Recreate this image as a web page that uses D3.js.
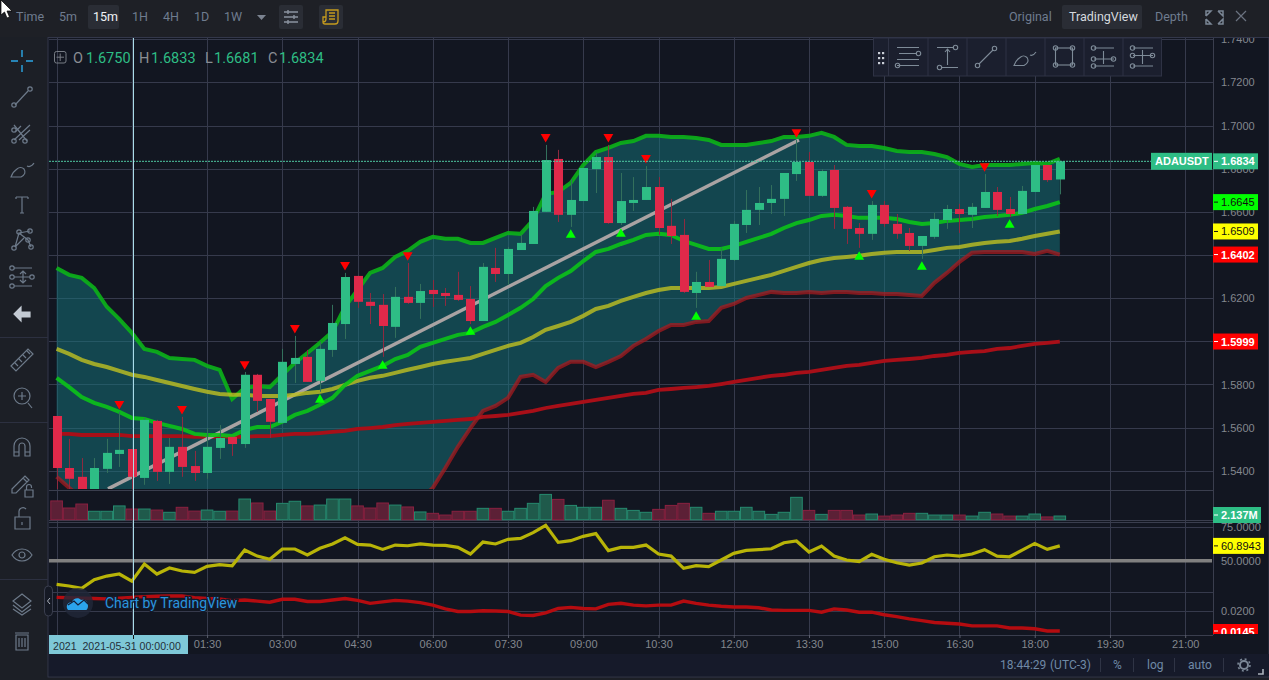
<!DOCTYPE html>
<html>
<head>
<meta charset="utf-8">
<script src="https://cdn.jsdelivr.net/npm/d3@7"></script>
<style>
html, body { margin: 0; padding: 0; background: #1c1f26; overflow: hidden; }
svg { display: block; }
</style>
</head>
<body>
<script>
//// Data ////////////////////////////////////////////
// ADAUSDT 15m, one entry per bar

const opens = [1.5654,1.5413,1.5372,1.5288,1.5409,1.5478,1.5501,1.5367,1.5631,1.5395,1.5511,1.5422,1.5390,1.5506,1.5557,1.5524,1.5845,1.5733,1.5622,1.5895,1.5928,1.5817,1.5960,1.6080,1.6303,
  1.6183,1.6169,1.6067,1.6206,1.6178,1.6238,1.6224,1.6215,1.6196,1.6094,1.6340,1.6312,1.6423,1.6451,1.6600,1.6845,1.6586,1.6650,1.6798,1.6854,1.6548,1.6641,1.6655,1.6715,
  1.6535,1.6493,1.6224,1.6275,1.6256,1.6377,1.6539,1.6609,1.6641,1.6660,1.6775,1.6831,1.6674,1.6794,1.6623,1.6525,1.6498,1.6632,1.6544,1.6502,1.6442,1.6484,1.6562,1.6613,1.6586,1.6618,1.6692,1.6613,1.6590,1.6692,1.6817,1.6750]
const closes = [1.5413,1.5363,1.5288,1.5413,1.5483,1.5497,1.5372,1.5636,1.5395,1.5511,1.5418,1.5390,1.5511,1.5552,1.5524,1.5845,1.5724,1.5627,1.5905,1.5923,1.5812,1.5965,1.6085,1.6298,1.6183,
  1.6164,1.6071,1.6206,1.6178,1.6233,1.6219,1.6210,1.6192,1.6094,1.6345,1.6312,1.6428,1.6456,1.6604,1.6840,1.6586,1.6655,1.6803,1.6854,1.6548,1.6650,1.6655,1.6715,1.6525,
  1.6488,1.6229,1.6275,1.6252,1.6382,1.6544,1.6609,1.6641,1.6660,1.6780,1.6831,1.6674,1.6789,1.6618,1.6521,1.6498,1.6632,1.6544,1.6498,1.6442,1.6488,1.6567,1.6613,1.6590,1.6623,1.6692,1.6609,1.6590,1.6697,1.6817,1.6747,1.6834]
const highs = [1.5654,1.5548,1.5459,1.5459,1.5548,1.5673,1.5501,1.5645,1.5636,1.5552,1.5650,1.5492,1.5598,1.5612,1.5557,1.5858,1.5849,1.5733,1.5965,1.6025,1.5960,1.5998,1.6169,1.6317,1.6303,
  1.6224,1.6219,1.6252,1.6363,1.6266,1.6284,1.6247,1.6322,1.6256,1.6363,1.6433,1.6437,1.6493,1.6623,1.6910,1.6887,1.6752,1.6803,1.6873,1.6910,1.6780,1.6761,1.6812,1.6761,
  1.6660,1.6567,1.6322,1.6377,1.6433,1.6558,1.6701,1.6715,1.6724,1.6780,1.6933,1.6877,1.6798,1.6817,1.6627,1.6548,1.6650,1.6650,1.6590,1.6525,1.6488,1.6595,1.6632,1.6637,1.6641,1.6775,1.6715,1.6669,1.6720,1.6817,1.6817,1.6834]
const lows = [1.5302,1.5302,1.5265,1.5280,1.5390,1.5418,1.5311,1.5335,1.5353,1.5339,1.5372,1.5353,1.5363,1.5455,1.5469,1.5506,1.5673,1.5552,1.5622,1.5807,1.5812,1.5766,1.5928,1.6011,1.6155,
  1.6080,1.5928,1.6016,1.6173,1.6104,1.6159,1.6164,1.6187,1.6080,1.6094,1.6275,1.6261,1.6423,1.6451,1.6600,1.6553,1.6530,1.6650,1.6687,1.6544,1.6539,1.6604,1.6655,1.6493,
  1.6451,1.6224,1.6155,1.6252,1.6256,1.6372,1.6502,1.6539,1.6590,1.6581,1.6743,1.6674,1.6669,1.6521,1.6451,1.6433,1.6470,1.6530,1.6475,1.6419,1.6382,1.6475,1.6521,1.6502,1.6525,1.6618,1.6581,1.6576,1.6590,1.6692,1.6738,1.6681]

// volume in millions
const volumes = [10.9,6.8,9.1,4.9,4.9,8.0,6.2,6.2,5.6,4.3,7.2,5.0,5.6,4.9,5.0,12.0,9.7,5.0,9.5,10.7,8.0,8.5,12.0,12.0,8.0,6.8,9.7,8.5,7.4,4.5,
  3.7,2.7,4.9,4.9,6.6,6.6,4.9,6.6,9.5,14.7,11.8,8.3,7.2,7.2,11.3,6.6,5.4,4.3,6.0,8.3,9.5,7.2,3.7,4.9,4.9,7.2,4.9,3.1,4.3,13.0,5.4,3.1,5.4,
  5.4,2.7,3.3,2.1,2.7,3.7,3.7,2.7,2.7,2.7,2.1,4.3,3.3,2.1,2.1,3.3,1.6,2.137]

const upperBand = [1.6340,1.6308,1.6294,1.6247,1.6160,1.6103,1.6039,1.5965,1.5951,1.5923,1.5918,1.5914,1.5886,1.5868,1.5733,1.5784,1.5793,1.5788,1.5845,1.5900,1.5946,1.5993,1.6044,1.6160,1.6238,
  1.6317,1.6340,1.6391,1.6419,1.6461,1.6484,1.6475,1.6475,1.6456,1.6456,1.6479,1.6502,1.6498,1.6562,1.6682,1.6692,1.6734,1.6817,1.6877,1.6896,1.6919,1.6928,1.6952,1.6952,
  1.6947,1.6947,1.6942,1.6933,1.6910,1.6910,1.6910,1.6919,1.6928,1.6947,1.6947,1.6952,1.6966,1.6947,1.6910,1.6905,1.6905,1.6896,1.6882,1.6877,1.6877,1.6868,1.6854,1.6822,1.6808,1.6817,1.6817,1.6817,1.6822,1.6826,1.6822,1.6845]
const middleBand = [1.5831,1.5788,1.5742,1.5715,1.5696,1.5673,1.5645,1.5640,1.5622,1.5608,1.5594,1.5571,1.5566,1.5566,1.5561,1.5589,1.5603,1.5603,1.5627,1.5659,1.5678,1.5706,1.5738,1.5798,1.5840,
  1.5863,1.5886,1.5918,1.5937,1.5974,1.5993,1.6011,1.6030,1.6039,1.6067,1.6090,1.6122,1.6155,1.6196,1.6256,1.6294,1.6326,1.6372,1.6414,1.6428,1.6451,1.6470,1.6493,1.6498,
  1.6493,1.6465,1.6447,1.6428,1.6428,1.6442,1.6461,1.6479,1.6498,1.6525,1.6548,1.6562,1.6581,1.6586,1.6581,1.6572,1.6572,1.6572,1.6567,1.6553,1.6544,1.6548,1.6558,1.6562,1.6567,1.6576,1.6581,1.6586,1.6595,1.6613,1.6627,1.6645]
const emaFast = [1.5965,1.5942,1.5914,1.5895,1.5881,1.5863,1.5845,1.5835,1.5821,1.5807,1.5793,1.5779,1.5766,1.5756,1.5752,1.5752,1.5747,1.5747,1.5747,1.5752,1.5761,1.5766,1.5779,1.5798,1.5817,
  1.5831,1.5840,1.5854,1.5868,1.5881,1.5895,1.5905,1.5914,1.5923,1.5942,1.5960,1.5979,1.5993,1.6020,1.6053,1.6071,1.6090,1.6118,1.6150,1.6164,1.6187,1.6206,1.6224,1.6238,
  1.6247,1.6247,1.6247,1.6247,1.6252,1.6266,1.6280,1.6294,1.6308,1.6326,1.6345,1.6363,1.6377,1.6386,1.6391,1.6396,1.6405,1.6410,1.6414,1.6414,1.6414,1.6423,1.6433,1.6437,1.6447,1.6456,1.6461,1.6465,1.6475,1.6488,1.6498,1.6509]
// below the pane for the first third of the bars, estimated there
const lowerBand = [1.5372,1.5321,1.5274,1.5219,1.5149,1.5080,1.5024,1.4964,1.4941,1.4931,1.4917,1.4917,1.4917,1.4931,1.4917,1.4941,1.4950,1.4964,1.4987,1.5010,1.5033,1.5056,1.5089,1.5107,1.5126,1.5149,1.5172,1.5195,1.5219,1.5265,
  1.5321,1.5413,1.5511,1.5598,1.5678,1.5701,1.5738,1.5835,1.5845,1.5812,1.5877,1.5905,1.5905,1.5881,1.5905,1.5932,1.5979,1.6011,1.6048,
  1.6076,1.6076,1.6090,1.6094,1.6155,1.6173,1.6201,1.6215,1.6229,1.6224,1.6224,1.6229,1.6224,1.6229,1.6229,1.6224,1.6224,1.6219,1.6219,1.6215,1.6210,1.6271,1.6317,1.6368,1.6410,1.6414,1.6414,1.6414,1.6414,1.6405,1.6419,1.6402]
const emaSlow = [1.5571,1.5571,1.5566,1.5566,1.5566,1.5566,1.5561,1.5561,1.5561,1.5561,1.5561,1.5557,1.5557,1.5557,1.5557,1.5557,1.5561,1.5561,1.5566,1.5571,1.5571,1.5575,1.5580,
  1.5585,1.5594,1.5598,1.5603,1.5612,1.5617,1.5622,1.5627,1.5631,1.5636,1.5640,1.5650,1.5654,1.5659,1.5668,1.5678,1.5691,1.5701,1.5710,1.5719,1.5729,1.5738,1.5747,1.5756,1.5761,1.5775,1.5779,1.5784,1.5788,1.5793,1.5802,1.5812,
  1.5821,1.5831,1.5840,1.5845,1.5854,1.5858,1.5868,1.5877,1.5886,1.5891,1.5900,1.5909,1.5914,1.5918,
  1.5923,1.5932,1.5937,1.5946,1.5951,1.5955,1.5965,1.5969,1.5979,1.5988,1.5993,1.5999]

const rsiValues = [32.6,31.4,29.7,36.0,38.7,40.2,35.0,47.5,40.2,44.6,42.4,41.4,45.8,47.1,46.3,57.8,53.4,51.0,58.6,58.6,54.2,59.1,62.3,66.9,62.0,61.5,58.3,61.5,61.0,
  62.3,61.5,61.3,59.8,54.9,63.7,62.3,65.7,66.4,70.6,76.0,63.5,64.7,67.9,69.9,57.4,59.8,59.8,61.5,54.9,53.4,44.4,46.3,45.6,50.5,55.4,57.6,58.1,58.8,63.2,64.5,56.4,60.8,53.4,
  50.5,49.3,54.7,51.0,48.5,46.8,48.3,52.9,54.2,53.4,54.9,58.1,53.4,52.9,57.8,62.7,58.3,60.8943]
const lowerOsc = [.0236,.0235,.0234,.0233,.0232,.0234,.0236,.0238,.0239,.0240,.0240,.0235,.0233,.0232,.0227,.0229,.0226,.0223,.0231,.0231,.0225,.0225,.0229,.0233,.0228,.0220,.0224,.0228,.0226,.0222,
  .0215,.0205,.0198,.0198,.0200,.0199,.0198,.0188,.0187,.0194,.0206,.0209,.0206,.0205,.0217,.0220,.0215,.0213,.0215,.0215,.0226,.0220,.0215,.0212,.0210,.0210,.0208,.0202,.0201,.0201,.0201,.0196,.0205,
  .0202,.0196,.0196,.0189,.0184,.0178,.0173,.0168,.0166,.0164,.0159,.0159,.0159,.0153,.0153,.0151,.0145,.0145]

// signal markers: bar index and price
const sellBars = [5,10,15,19,23,28,39,44,47,59,65,74]
const sellPrices = [1.5710,1.5687,1.5895,1.6062,1.6354,1.6400,1.6947,1.6947,1.6850,1.6970,1.6688,1.6812]
const buyBars = [21,26,33,41,45,51,64,69,76]
const buyPrices = [1.5729,1.5886,1.6044,1.6493,1.6498,1.6113,1.6391,1.6345,1.6539]

// hand drawn trend line
const trendBars = [4.1, 59.2]
const trendPrices = [1.5316, 1.6933]

const priceTicks = [1.74,1.72,1.70,1.68,1.66,1.64,1.62,1.60,1.58,1.56,1.54]
const rsiTicks = [75,50]
const oscTicks = [.025,.02]
// first two labels (22:30, 00:00) sit under the crosshair box, so they are left out
const timeLabels = ["01:30","03:00","04:30","06:00","07:30","09:00","10:30","12:00","13:30","15:00","16:30","18:00","19:30","21:00"]

//// Constants ///////////////////////////////////////
const WIDTH = 1269
const HEIGHT = 680
const GREEN = "#2ebd85"
const RED = "#e0294a"
const GRID = "#363a4c"
const AXIS_TEXT = "#83878e"
const ICON = "#6d7a8a"
const AXIS_FONT = "'Liberation Sans', Arial, sans-serif"
const UI_FONT = "Roboto, sans-serif"
const fmt4 = d3.format(".4f")

//// Scales //////////////////////////////////////////
const x = d3.scaleLinear().domain([0, 80]).range([56.6, 1059.8])
const y = d3.scaleLinear().domain([1.54, 1.70]).range([470.8, 125.5])
const yVol = d3.scaleLinear().domain([0, 14.7]).range([519.7, 494.4])
const yRsi = d3.scaleLinear().domain([50, 75]).range([560.7, 526.7])
const yOsc = d3.scaleLinear().domain([.02, .0145]).range([610.7, 631])

const svg = d3.select("body").append("svg")
  .attr("width", WIDTH)
  .attr("height", HEIGHT)
  .style("font-family", AXIS_FONT)

const defs = svg.append("defs")
defs.append("clipPath").attr("id", "clip-main").append("rect")
  .attr("x", 49).attr("y", 38).attr("width", 1164).attr("height", 451)
defs.append("clipPath").attr("id", "clip-lower").append("rect")
  .attr("x", 49).attr("y", 491).attr("width", 1164).attr("height", 144)
defs.append("clipPath").attr("id", "clip-osc-label").append("rect")
  .attr("x", 1213).attr("y", 600).attr("width", 56).attr("height", 34)

//// Backgrounds /////////////////////////////////////
svg.append("rect").attr("width", WIDTH).attr("height", HEIGHT).attr("fill", "#1c1f26")
svg.append("rect").attr("x", 48).attr("y", 37).attr("width", WIDTH - 48).attr("height", 640)
  .attr("fill", "#121621").attr("stroke", "#33374a")
svg.append("rect").attr("x", 49).attr("y", 654).attr("width", WIDTH - 49).attr("height", 22).attr("fill", "#161a2a")

//// Grid ////////////////////////////////////////////
svg.append("g").selectAll("line").data(d3.range(0, 16)).join("line")
  .attr("x1", i => Math.round(x(6 * i)) + .5)
  .attr("x2", i => Math.round(x(6 * i)) + .5)
  .attr("y1", 38).attr("y2", 635)
  .attr("stroke", GRID)

function hGrid(values, scale) {
  svg.append("g").selectAll("line").data(values).join("line")
    .attr("x1", 49).attr("x2", 1213)
    .attr("y1", d => Math.round(scale(d)) + .5)
    .attr("y2", d => Math.round(scale(d)) + .5)
    .attr("stroke", GRID)
}
hGrid(priceTicks, y)
hGrid(rsiTicks.slice(0, 1), yRsi)
hGrid(oscTicks, yOsc)

// pane separators
for (const sep of [490.5, 520.5, 522.5, 635.5]) {
  svg.append("line").attr("x1", 49).attr("x2", 1213).attr("y1", sep).attr("y2", sep).attr("stroke", "#3a3e4e")
}
svg.append("line").attr("x1", 1213.5).attr("x2", 1213.5).attr("y1", 38).attr("y2", 635).attr("stroke", "#3a3e4e")

//// Main pane ///////////////////////////////////////
const main = svg.append("g").attr("clip-path", "url(#clip-main)")

main.append("path")
  .datum(d3.range(81))
  .attr("fill", "rgba(19,117,126,.5)")
  .attr("d", d3.area().x(i => x(i)).y0(i => y(lowerBand[i])).y1(i => y(upperBand[i])))

const priceLine = (values) => d3.line().x((d, i) => x(i)).y(d => y(d))(values)

main.append("path").attr("d", priceLine(emaSlow)).attr("fill", "none")
  .attr("stroke", "#a80f18").attr("stroke-width", 3.8)
main.append("path").attr("d", priceLine(lowerBand)).attr("fill", "none")
  .attr("stroke", "#ab1a1e").attr("stroke-width", 4).attr("stroke-opacity", .72)

main.append("path")
  .attr("d", d3.line().x(d => x(d[0])).y(d => y(d[1]))(trendBars.map((b, i) => [b, trendPrices[i]])))
  .attr("fill", "none").attr("stroke", "#a9a3a3").attr("stroke-width", 3.5)

main.append("path").attr("d", priceLine(upperBand)).attr("fill", "none")
  .attr("stroke", "#0cb318").attr("stroke-width", 4).attr("stroke-opacity", .9)
main.append("path").attr("d", priceLine(emaFast)).attr("fill", "none")
  .attr("stroke", "#bcbe22").attr("stroke-width", 4).attr("stroke-opacity", .82)
main.append("path").attr("d", priceLine(middleBand)).attr("fill", "none")
  .attr("stroke", "#0cc218").attr("stroke-width", 4).attr("stroke-opacity", .9)

// current price dashed line
svg.append("line").attr("x1", 49).attr("x2", 1213)
  .attr("y1", y(1.6834)).attr("y2", y(1.6834))
  .attr("stroke", "#4fc7a1").attr("stroke-dasharray", "2,1")

// candles
const bars = d3.range(81)
main.append("g").selectAll("line").data(bars).join("line")
  .attr("x1", i => Math.round(x(i)) + .5)
  .attr("x2", i => Math.round(x(i)) + .5)
  .attr("y1", i => y(highs[i]))
  .attr("y2", i => y(lows[i]))
  .attr("stroke", i => closes[i] >= opens[i] ? "#33705c" : "#8e2a40")
main.append("g").selectAll("rect").data(bars).join("rect")
  .attr("x", i => Math.round(x(i)) - 4)
  .attr("width", 9)
  .attr("y", i => y(Math.max(opens[i], closes[i])))
  .attr("height", i => Math.max(1, Math.abs(y(opens[i]) - y(closes[i]))))
  .attr("fill", i => closes[i] >= opens[i] ? GREEN : RED)

// signals
main.append("g").selectAll("path").data(sellBars).join("path")
  .attr("d", d3.symbol(d3.symbolTriangle, 42))
  .attr("fill", "#ff0000")
  .attr("transform", (b, i) => `translate(${x(b)},${y(sellPrices[i])}) rotate(180)`)
main.append("g").selectAll("path").data(buyBars).join("path")
  .attr("d", d3.symbol(d3.symbolTriangle, 42))
  .attr("fill", "#00ff00")
  .attr("transform", (b, i) => `translate(${x(b)},${y(buyPrices[i])})`)

//// Volume //////////////////////////////////////////
svg.append("g").selectAll("rect").data(bars).join("rect")
  .attr("x", i => x(i) - 5.8)
  .attr("width", 11.6)
  .attr("y", i => yVol(volumes[i]))
  .attr("height", i => yVol(0) - yVol(volumes[i]))
  .attr("fill", i => closes[i] >= opens[i] ? "#1f5a4b" : "#5c2036")
  .attr("stroke", i => closes[i] >= opens[i] ? "#268a6f" : "#8a2140")

//// Lower oscillators ///////////////////////////////
const lower = svg.append("g").attr("clip-path", "url(#clip-lower)")
lower.append("line").attr("x1", 49).attr("x2", 1212)
  .attr("y1", yRsi(50)).attr("y2", yRsi(50))
  .attr("stroke", "#808080").attr("stroke-width", 3.6)
lower.append("path")
  .attr("d", d3.line().x((d, i) => x(i)).y(d => yRsi(d))(rsiValues))
  .attr("fill", "none").attr("stroke", "#b8b408").attr("stroke-width", 3.2)
lower.append("path")
  .attr("d", d3.line().x((d, i) => x(i)).y(d => yOsc(d))(lowerOsc))
  .attr("fill", "none").attr("stroke", "#b50c10").attr("stroke-width", 3.4)

//// Crosshair ///////////////////////////////////////
svg.append("line").attr("x1", 133.5).attr("x2", 133.5).attr("y1", 38).attr("y2", 635)
  .attr("stroke", "#a9dce8")

//// Axes ////////////////////////////////////////////
function styleAxis(g) {
  g.select(".domain").remove()
  g.selectAll(".tick line").remove()
  g.selectAll("text").attr("fill", AXIS_TEXT).style("font-size", "11px").style("font-family", AXIS_FONT)
}

svg.append("g").attr("transform", "translate(1213,0)")
  .call(d3.axisRight(y).tickValues(priceTicks).tickFormat(fmt4).tickSize(0).tickPadding(8))
  .call(styleAxis)
svg.append("g").attr("transform", "translate(1213,0)")
  .call(d3.axisRight(yRsi).tickValues(rsiTicks).tickFormat(fmt4).tickSize(0).tickPadding(8))
  .call(styleAxis)
svg.append("g").attr("transform", "translate(1213,0)")
  .call(d3.axisRight(yOsc).tickValues(oscTicks.slice(1)).tickFormat(fmt4).tickSize(0).tickPadding(8))
  .call(styleAxis)

const timeAxis = d3.axisBottom(x)
  .tickValues(timeLabels.map((d, i) => 12 + 6 * i))
  .tickFormat((d, i) => timeLabels[i])
  .tickSize(3)
  .tickPadding(2)
svg.append("g").attr("transform", "translate(0,635)")
  .call(timeAxis)
  .call(g => g.select(".domain").remove())
  .call(g => g.selectAll(".tick line").attr("stroke", "#5a5e6c"))
  .call(g => g.selectAll("text").attr("fill", AXIS_TEXT).style("font-size", "11px").style("font-family", AXIS_FONT))

// crosshair time label
svg.append("rect").attr("x", 49).attr("y", 635).attr("width", 139).attr("height", 19).attr("fill", "#7ec8d8")
svg.append("line").attr("x1", 133.5).attr("x2", 133.5).attr("y1", 635).attr("y2", 639).attr("stroke", "#111")
svg.append("text").attr("x", 53).attr("y", 650).attr("fill", "#24303a")
  .style("font-size", "10.6px").style("white-space", "pre").text("2021  2021-05-31 00:00:00")

//// Value labels ////////////////////////////////////
function priceLabel(cy, text, bg, color, w, bold) {
  svg.append("rect").attr("x", 1213).attr("y", cy - 8).attr("width", w).attr("height", 16).attr("fill", bg)
  svg.append("line").attr("x1", 1214).attr("x2", 1218).attr("y1", cy).attr("y2", cy).attr("stroke", color)
  svg.append("text").attr("x", 1221).attr("y", cy + 4).attr("fill", color)
    .style("font-size", "11px").style("font-weight", bold ? "700" : "400").text(text)
}
svg.append("rect").attr("x", 1151).attr("y", y(1.6834) - 8.5).attr("width", 61).attr("height", 17).attr("fill", GREEN)
svg.append("text").attr("x", 1155).attr("y", y(1.6834) + 4).attr("fill", "#fff")
  .style("font-size", "11px").style("font-weight", "700").text("ADAUSDT")
priceLabel(y(1.6834), fmt4(1.6834), GREEN, "#fff", 45, true)
priceLabel(y(1.6645), fmt4(1.6645), "#00ff00", "#111", 45, false)
priceLabel(y(1.6509), fmt4(1.6509), "#ffff00", "#111", 45, false)
priceLabel(y(1.6402), fmt4(1.6402), "#ff0000", "#fff", 45, true)
priceLabel(y(1.5999), fmt4(1.5999), "#ff0000", "#fff", 45, true)
priceLabel(515, "2.137M", GREEN, "#fff", 48, true)
priceLabel(yRsi(60.8943), fmt4(60.8943), "#ffff00", "#111", 51, false)

const oscLabel = svg.append("g").attr("clip-path", "url(#clip-osc-label)")
oscLabel.append("rect").attr("x", 1213).attr("y", yOsc(.0145) - 7).attr("width", 45).attr("height", 16).attr("fill", "#ff0000")
oscLabel.append("line").attr("x1", 1214).attr("x2", 1218).attr("y1", yOsc(.0145)).attr("y2", yOsc(.0145)).attr("stroke", "#fff")
oscLabel.append("text").attr("x", 1221).attr("y", yOsc(.0145) + 5).attr("fill", "#fff")
  .style("font-size", "11px").style("font-weight", "700").text("0.0145")

//// Legend //////////////////////////////////////////
const legendParts = [["O", 73, "#8a8d93"], ["1.6750", 86, GREEN], ["H", 139, "#8a8d93"], ["1.6833", 151, GREEN],
  ["L", 205, "#8a8d93"], ["1.6681", 214, GREEN], ["C", 268, "#8a8d93"], ["1.6834", 279, GREEN]]
svg.append("g").selectAll("text").data(legendParts).join("text")
  .attr("x", d => d[1]).attr("y", 63).attr("fill", d => d[2])
  .style("font-family", UI_FONT).style("font-size", "14.5px").text(d => d[0])
svg.append("rect").attr("x", 54.5).attr("y", 51.5).attr("width", 11.5).attr("height", 11.5).attr("rx", 2)
  .attr("fill", "none").attr("stroke", "#777c85")
svg.append("path").attr("d", "M60.2 53.5V61M56.5 57.2H64").attr("stroke", "#777c85")

//// Watermark ///////////////////////////////////////
svg.append("circle").attr("cx", 78).attr("cy", 603).attr("r", 15).attr("fill", "#22283a").attr("fill-opacity", .8)
svg.append("path").attr("d", "M68 610c-3-4 0-8 4-8 1-4 7-5 9-2 4-1 7 2 7 6 0 2-1 4-2 4z").attr("fill", "#2ba4ec")
svg.append("path").attr("d", "M68 605l6-4 4 4 6-5 4 4").attr("fill", "none").attr("stroke", "#14203a").attr("stroke-width", 1.2)
svg.append("text").attr("x", 105).attr("y", 608).attr("fill", "#2a95dd")
  .attr("stroke", "#141a2c").attr("stroke-width", 2.5).attr("paint-order", "stroke")
  .style("font-family", UI_FONT).style("font-size", "14px").text("Chart by TradingView")
svg.append("rect").attr("x", 44.5).attr("y", 586).attr("width", 8).attr("height", 30).attr("rx", 4)
  .attr("fill", "#151924").attr("stroke", "#3a3e4e")
svg.append("path").attr("d", "M50 598l-2.5 3 2.5 3").attr("fill", "none").attr("stroke", "#aeb4be")

//// Bottom status bar ///////////////////////////////
const statusParts = [["18:44:29", 1000], ["(UTC-3)", 1050], ["%", 1113], ["log", 1147], ["auto", 1188]]
svg.append("g").selectAll("text").data(statusParts).join("text")
  .attr("x", d => d[1]).attr("y", 669).attr("fill", "#6f89a6")
  .style("font-family", UI_FONT).style("font-size", "12px").text(d => d[0])
for (const sx of [1100, 1133, 1174, 1223]) {
  svg.append("line").attr("x1", sx + .5).attr("x2", sx + .5).attr("y1", 658).attr("y2", 672).attr("stroke", "#2f3445")
}
// gear
svg.append("circle").attr("cx", 1244).attr("cy", 665).attr("r", 4).attr("fill", "none").attr("stroke", "#7b8796").attr("stroke-width", 2)
svg.append("circle").attr("cx", 1244).attr("cy", 665).attr("r", 6).attr("fill", "none").attr("stroke", "#7b8796").attr("stroke-width", 1.6).attr("stroke-dasharray", "2,2.7")
svg.append("path").attr("d", "M1258 674h5v-5").attr("fill", "none").attr("stroke", "#aab1bb").attr("stroke-width", 1.6)

//// Top toolbar /////////////////////////////////////
svg.append("rect").attr("width", WIDTH).attr("height", 37).attr("fill", "#1e2026")
svg.append("line").attr("x1", 48).attr("x2", WIDTH).attr("y1", 37.5).attr("y2", 37.5).attr("stroke", "#33374a")

const topButtons = [[88, 31], [279, 24], [319, 24], [1062, 80]]
svg.append("g").selectAll("rect").data(topButtons).join("rect")
  .attr("x", d => d[0]).attr("y", 5).attr("width", d => d[1]).attr("height", 24).attr("rx", 2).attr("fill", "#2a2d35")

const topLabels = [["Time", 16, "#6f7c8f"], ["5m", 59, "#6f7c8f"], ["15m", 93, "#f0f2f5"], ["1H", 132, "#6f7c8f"], ["4H", 163, "#6f7c8f"],
  ["1D", 194, "#6f7c8f"], ["1W", 224, "#6f7c8f"], ["Original", 1009, "#6f7c8f"], ["TradingView", 1069, "#d5d9de"], ["Depth", 1155, "#6f7c8f"]]
svg.append("g").selectAll("text").data(topLabels).join("text")
  .attr("x", d => d[1]).attr("y", 21).attr("fill", d => d[2])
  .style("font-family", UI_FONT).style("font-size", "12.5px").text(d => d[0])

svg.append("path").attr("d", "M257 15h9l-4.5 5z").attr("fill", "#7b8390")
// settings sliders
svg.append("path").attr("d", "M284 12h14M284 17h14M284 22h14M288 10v4M294 15v4M288 20v4")
  .attr("fill", "none").attr("stroke", "#8b93a0").attr("stroke-width", 1.4)
// gold notes icon
svg.append("path").attr("d", "M326 10h12v11c0 2-1 3-3 3h-10c-1.5 0-2-1-2-2v-5h3zM323 22c2 0 3-.5 3-3v-2M329 13h6M329 16h6M329 19h6")
  .attr("fill", "none").attr("stroke", "#c49a1e").attr("stroke-width", 1.3)
// expand + close
svg.append("path").attr("d", "M1206 16v-5h5l-5 5M1218 11h5v5l-5-5M1206 19v5h5l-5-5M1218 24h5v-5l-5 5")
  .attr("fill", "none").attr("stroke", "#7b8796").attr("stroke-width", 1.5)
svg.append("path").attr("d", "M1236 11l10 10M1246 11l-10 10").attr("stroke", "#6b7380").attr("stroke-width", 1.2)

//// Floating draw toolbar ///////////////////////////
svg.append("rect").attr("x", 873.5).attr("y", 38).attr("width", 288).attr("height", 38)
  .attr("fill", "#1b1f2e").attr("stroke", "#2e3244")
for (const sx of [888.5, 928, 967, 1006, 1045, 1084, 1123]) {
  svg.append("line").attr("x1", sx).attr("x2", sx).attr("y1", 38).attr("y2", 76).attr("stroke", "#2e3244")
}
svg.append("g").selectAll("rect").data(d3.cross([878, 882], [52, 57, 62])).join("rect")
  .attr("x", d => d[0]).attr("y", d => d[1]).attr("width", 2.2).attr("height", 2.2).attr("fill", "#c9ced6")

function circleAt(g, cx, cy) {
  g.append("circle").attr("cx", cx).attr("cy", cy).attr("r", 2.2)
}
const tools = svg.append("g").attr("fill", "none").attr("stroke", "#7e8b98").attr("stroke-width", 1.1)
tools.append("path").attr("d", "M897 47.5h22M897 59.5h22M897 65.5h22M899 53.5h18")
circleAt(tools, 918.5, 53.5); circleAt(tools, 897.5, 65.5)
tools.append("path").attr("d", "M937 47.5h17M941 67.5h17M947.5 65v-16M945 52l2.5-3 2.5 3")
circleAt(tools, 955.5, 47.5); circleAt(tools, 939.5, 67.5)
tools.append("path").attr("d", "M979 64l14-14")
circleAt(tools, 977.5, 65.5); circleAt(tools, 994.5, 48.5)
tools.append("path").attr("d", "M1014 65.5h10c4-2 5-5 3-8-2-2-5-2-7 0-3 2-5 5-6 8zM1030 55c2 1 4 0 6-3")
tools.append("rect").attr("x", 1055.5).attr("y", 48).attr("width", 17).attr("height", 17)
for (const c of [[1055.5, 48], [1072.5, 48], [1055.5, 65], [1072.5, 65]]) circleAt(tools, c[0], c[1])
tools.append("path").attr("d", "M1094 48h20M1094 59h20M1094 66h20M1103.5 51v13")
circleAt(tools, 1093.5, 48); circleAt(tools, 1093.5, 59); circleAt(tools, 1113.5, 59); circleAt(tools, 1093.5, 66)
tools.append("path").attr("d", "M1133 48h20M1133 55.5h20M1133 66h20M1142.5 50v14")
circleAt(tools, 1132.5, 48); circleAt(tools, 1132.5, 55.5); circleAt(tools, 1152.5, 55.5); circleAt(tools, 1132.5, 66)

//// Left toolbar ////////////////////////////////////
svg.append("rect").attr("x", 0).attr("y", 37).attr("width", 44).attr("height", 640).attr("fill", "#1c1f26")
for (const sy of [337, 422, 579]) {
  svg.append("line").attr("x1", 0).attr("x2", 48).attr("y1", sy + .5).attr("y2", sy + .5).attr("stroke", "#2c3040")
}
const side = svg.append("g").attr("fill", "none").attr("stroke", ICON).attr("stroke-width", 1.2)
function icon(cy, d) {
  return side.append("g").attr("transform", `translate(22,${cy})`).append("path").attr("d", d)
}
icon(61, "M-11 0h7M4 0h7M0-11v7M0 4v7").attr("stroke", "#2ba7e6").attr("stroke-width", 1.4)
icon(97, "M-7 8l13-14")
side.append("circle").attr("cx", 30).attr("cy", 89).attr("r", 2.2)
side.append("circle").attr("cx", 14).attr("cy", 105).attr("r", 2.2)
icon(133, "M-8-8L5 8M-8 7L8-8M-3 7L8-3M-7-1L-1-7")
side.append("circle").attr("cx", 14).attr("cy", 141).attr("r", 2.2)
side.append("circle").attr("cx", 25).attr("cy", 141).attr("r", 2.2)
side.append("circle").attr("cx", 14).attr("cy", 130).attr("r", 2.2)
icon(172, "M-11 5h10c4-2 5-5 3-8-2-2-5-2-7 0-3 2-5 5-6 8zM5-6c2 1 5 0 7-3")
icon(205, "M-6-8H6M0-8V8M-2 8H2M-6-8v2M6-8v2")
icon(240, "M-7 7L-3-7 6 0l3 7M-3-7L8-9M-7 7L2-2")
for (const c of [[14, 248], [19, 232], [28, 240], [31, 247], [30, 231]]) side.append("circle").attr("cx", c[0]).attr("cy", c[1]).attr("r", 2.2)
icon(277, "M-8-9H10M-8 0H10M-8 9H10M1-6V6M-2-3l3-3 3 3M-2 3l3 3 3-3")
for (const c of [[12, 268], [12, 277], [32, 277], [12, 286]]) side.append("circle").attr("cx", c[0]).attr("cy", c[1]).attr("r", 2.2).attr("fill", "#1c1f26")
icon(314, "M8-2H-1V-7L-8 0L-1 7V3H8Z").attr("fill", "#c4cbd4").attr("stroke", "#c4cbd4")
icon(360, "M-11 6L6-11L11-6L-6 11ZM-7 3l3 3M-3-1l3 3M1-5l3 3M5-9l3 3")
icon(397, "M-8-1a8 8 0 1 0 16 0a8 8 0 1 0-16 0M0-5V3M-4-1H4M6 6L10 11")
icon(447, "M-8 9V-1a8 8 0 0 1 16 0V9H3V-1a3 3 0 0 0-6 0V9ZM-8 5H-3M3 5H8")
icon(483, "M-10 6L3-7L7-3L-6 10H-10ZM1-5L5-1M3 7h8v7H3ZM4.5 7V4a2.5 2.5 0 0 1 5 0v1")
icon(518, "M-7-1H8V11H-7ZM-3-1V-6a4 4 0 0 1 7-3M0 4V7")
icon(555, "M-10 0C-5-8 5-8 10 0C5 8-5 8-10 0ZM3 0a3 3 0 1 1-6 0a3 3 0 1 1 6 0Z")
icon(603, "M0-9L9-2L0 5L-9-2ZM-9 2L0 9L9 2M-9 6L0 12L9 6")
icon(641, "M-6-6H6V9H-6ZM-7-8H7M-3-3V6M0-3V6M3-3V6")

// mouse pointer
svg.append("path").attr("d", "M1 0V15L4.5 12L7 18L9.5 17L7 11H12Z").attr("fill", "#fff").attr("stroke", "#000").attr("stroke-width", .7)
</script>
</body>
</html>
